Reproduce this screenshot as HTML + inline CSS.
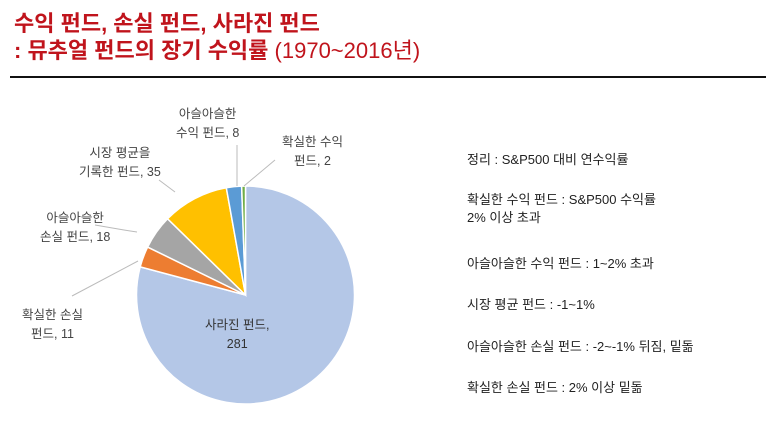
<!DOCTYPE html>
<html><head><meta charset="utf-8"><style>
body{margin:0;width:766px;height:427px;background:#fff;overflow:hidden;font-family:"Liberation Sans","Noto Sans CJK KR",sans-serif;position:relative}
.t{position:absolute;left:14px;color:#c0141c;font-weight:bold;font-size:22px;white-space:nowrap}
.n{position:absolute;font-size:13px;color:#222;white-space:nowrap}
.lb{position:absolute;font-size:12.5px;color:#444;text-align:center;line-height:19px;white-space:nowrap}
</style></head><body>
<div class="t" style="top:6px">수익 펀드, 손실 펀드, 사라진 펀드</div>
<div class="t" style="top:33px">: 뮤추얼 펀드의 장기 수익률 <span style="font-weight:normal">(1970~2016년)</span></div>
<div style="position:absolute;left:10px;top:76px;width:756px;height:2px;background:#111"></div>
<svg width="766" height="427" style="position:absolute;left:0;top:0">
<g id="pie"></g>
<g stroke="#bbb" stroke-width="1" fill="none">
<polyline points="159,180 175,192"/>
<polyline points="95,225 124,230 137,232"/>
<polyline points="72,296 138,261"/>
<polyline points="237,145 237,186"/>
<polyline points="275,160 244,186"/>
</g>
</svg>
<div class="lb" style="left:205px;top:316px;color:#333">사라진 펀드,<br>281</div>
<div class="lb" style="left:22px;top:306px">확실한 손실<br>펀드, 11</div>
<div class="lb" style="left:40px;top:209px">아슬아슬한<br>손실 펀드, 18</div>
<div class="lb" style="left:79px;top:144px">시장 평균을<br>기록한 펀드, 35</div>
<div class="lb" style="left:176px;top:105px">아슬아슬한<br>수익 펀드, 8</div>
<div class="lb" style="left:282px;top:133px">확실한 수익<br>펀드, 2</div>
<div class="n" style="left:467px;top:149px">정리 : S&amp;P500 대비 연수익률</div>
<div class="n" style="left:467px;top:191px;line-height:18px">확실한 수익 펀드 : S&amp;P500 수익률<br>2% 이상 초과</div>
<div class="n" style="left:467px;top:253px">아슬아슬한 수익 펀드 : 1~2% 초과</div>
<div class="n" style="left:467px;top:294px">시장 평균 펀드 : -1~1%</div>
<div class="n" style="left:467px;top:336px">아슬아슬한 손실 펀드 : -2~-1% 뒤짐, 밑돎</div>
<div class="n" style="left:467px;top:377px">확실한 손실 펀드 : 2% 이상 밑돎</div>
<script>
const categories=["사라진 펀드","확실한 손실 펀드","아슬아슬한 손실 펀드","시장 평균 펀드","아슬아슬한 수익 펀드","확실한 수익 펀드"];
const values=[281,11,18,35,8,2];
const colors=["#b4c7e7","#ed7d31","#a5a5a5","#ffc000","#5b9bd5","#70ad47"];
const cx=245.5,cy=295,r=109;
const g=document.getElementById('pie');
const total=values.reduce((a,b)=>a+b,0);
let a0=0;
values.forEach((v,i)=>{
  const a1=a0+v/total*2*Math.PI;
  const p=(a)=>[cx+r*Math.sin(a),cy-r*Math.cos(a)];
  const [x0,y0]=p(a0),[x1,y1]=p(a1);
  const large=(a1-a0)>Math.PI?1:0;
  const path=document.createElementNS('http://www.w3.org/2000/svg','path');
  path.setAttribute('d',`M${cx},${cy}L${x0},${y0}A${r},${r} 0 ${large} 1 ${x1},${y1}Z`);
  path.setAttribute('fill',colors[i]);
  path.setAttribute('stroke','#fff');
  path.setAttribute('stroke-width','1.5');
  
  
  g.appendChild(path);
  a0=a1;
});
</script>
</body></html>
